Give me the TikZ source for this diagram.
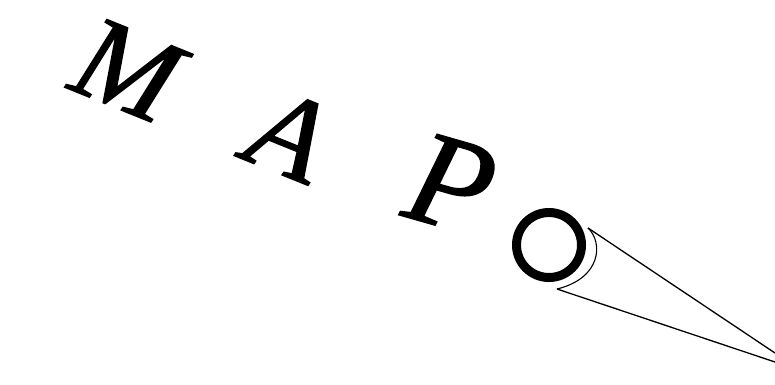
\documentclass[tikz,border=0pt]{standalone}
\usepackage{fontspec}
\setmainfont{Liberation Serif}
\newfontfamily\lettfont{Liberation Serif}[ItalicFeatures={FakeBold=1.2}]
\begin{document}
\begin{tikzpicture}[x=1pt,y=-1pt,
  letter/.style={inner sep=0pt, font=\fontsize{120}{120}\lettfont\itshape, rotate=-22},
  ring/.style={draw, line width=9pt},
  beam/.style={draw, line width=1.3pt},
  rim/.style={draw, line width=1.1pt}]
\useasboundingbox (0,0) rectangle (775,384);
\node[letter] (m) at (127,70) {M};
\node[letter] (a) at (289,135) {A};
\node[letter, rotate=6, font=\fontsize{134}{134}\lettfont\itshape] (p) at (451,184) {P};
\node[circle, minimum size=65pt, inner sep=0pt, ring] (o) at (549,245) {};
\coordinate (ct) at (588,228);
\coordinate (cb) at (557,289);
\coordinate (et) at (775,353);
\coordinate (eb) at (775,362);
\draw[rim] (ct) .. controls (603,242) and (602,278) .. (cb);
\draw[beam] (ct) -- (et);
\draw[beam] (cb) -- (eb);
\end{tikzpicture}
\end{document}
